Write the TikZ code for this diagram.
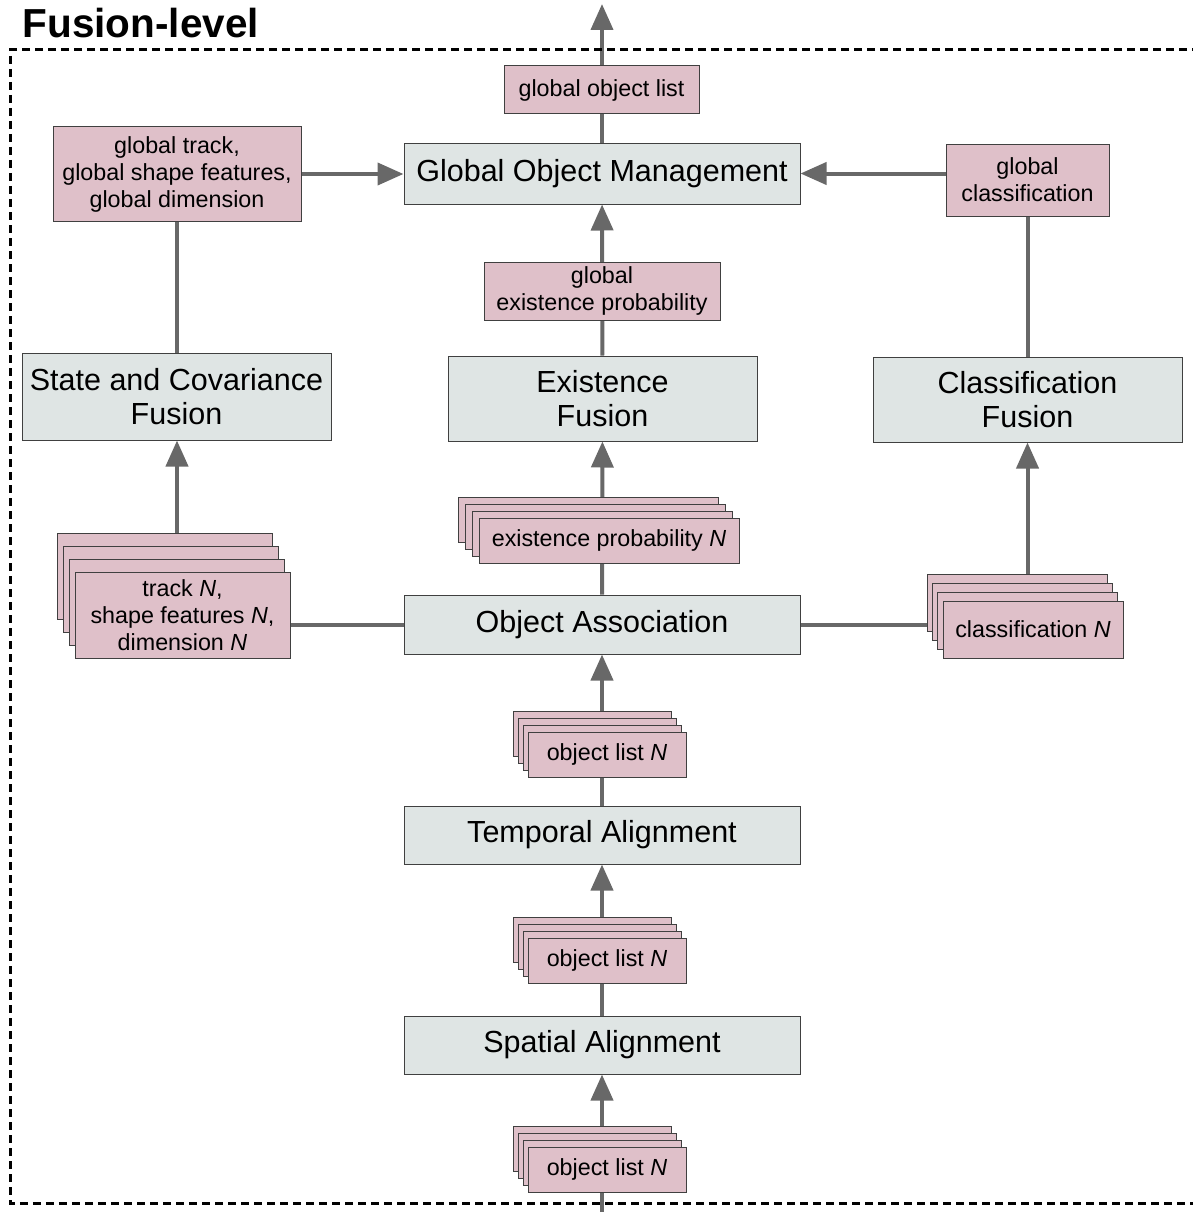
\documentclass[tikz,border=0pt]{standalone}
\usepackage{fontspec}
\setmainfont{Liberation Sans}
\usetikzlibrary{positioning,arrows.meta,backgrounds,calc}
\definecolor{procfill}{RGB}{223,229,228}
\definecolor{datafill}{RGB}{223,192,201}
\definecolor{linegray}{RGB}{104,104,104}
\tikzset{
  proc/.style={rectangle,draw=black!75,line width=1pt,fill=procfill,inner sep=0pt,align=center,
               font=\fontsize{30.5}{34}\selectfont},
  data/.style={rectangle,draw=black!75,line width=1pt,fill=datafill,inner sep=0pt,align=center,
               font=\fontsize{23.3}{27}\selectfont},
  edge/.style={-{Triangle[length=26pt,width=22pt]},line width=4pt,draw=linegray},
  link/.style={line width=4pt,draw=linegray},
  frame/.style={line width=3pt,dash pattern=on 8pt off 5pt},
}
% stacked data box: name, centre, width, height, dx, dy, text
\newcommand{\datastack}[7]{%
  \foreach \k in {3,2,1}
    \node[data,minimum width=#3,minimum height=#4] at ($(#2)+({-\k*#5},{-\k*#6})$) {};
  \node[data,minimum width=#3,minimum height=#4] (#1) at (#2) {#7};
}

\begin{document}
\begin{tikzpicture}[x=1pt,y=-1pt]
  \useasboundingbox (0,0) rectangle (1192,1212);
  % ---- frame ----
  \node[anchor=base west,font=\fontsize{40.5}{44}\selectfont\bfseries] (title) at (19,38) {Fusion-level};
  \draw[frame] (1200,50) -| (10,1203) -- (1200,1203);
  \coordinate (topend) at (602,4);
  \coordinate (botstart) at (602,1214);
  % ---- processing steps ----
  \node[proc,minimum width=396,minimum height=61] (gom) at (602,173.5) {Global Object Management};
  \node[proc,minimum width=309,minimum height=87] (scf) at (176.5,396.5) {State and Covariance\\Fusion};
  \node[proc,minimum width=309,minimum height=85] (exf) at (602.5,398.5) {Existence\\Fusion};
  \node[proc,minimum width=309,minimum height=85] (clf) at (1027.5,399.5) {Classification\\Fusion};
  \node[proc,minimum width=396,minimum height=59] (oa) at (602,624.5) {Object Association};
  \node[proc,minimum width=396,minimum height=58] (ta) at (602,835) {Temporal Alignment};
  \node[proc,minimum width=396,minimum height=58] (sa) at (602,1045) {Spatial Alignment};
  % ---- global data ----
  \node[data,minimum width=195,minimum height=48] (gol) at (601.5,90) {global object list};
  \node[data,minimum width=248,minimum height=94] (gtrack) at (177,174)
    {global track,\\global shape features,\\global dimension};
  \node[data,minimum width=163,minimum height=72] (gclass) at (1027.5,180) {global\\classification};
  \node[data,minimum width=236,minimum height=58] (gexist) at (602,291) {global\\existence probability};
  % ---- per-sensor data ----
  \datastack{trackN}{182.5,615}{215}{86}{5.7}{13}{track \textit{N},\\shape features \textit{N},\\dimension \textit{N}}
  \datastack{existN}{609,540.5}{260}{45}{7}{6.7}{existence probability \textit{N}}
  \datastack{classN}{1033,629.5}{180}{57}{5.3}{8.7}{classification \textit{N}}
  \datastack{objA}{607,754.5}{158}{45}{4.7}{6.7}{object list \textit{N}}
  \datastack{objB}{607,960.5}{158}{45}{4.7}{7}{object list \textit{N}}
  \datastack{objC}{607,1169.5}{158}{45}{4.7}{7}{object list \textit{N}}
  % ---- edges ----
  \begin{scope}[on background layer]
    \draw[edge] (gom) -- (topend);
    \draw[edge] (gtrack.east) -- (gtrack.east -| gom.west);
    \draw[edge] (gclass.west |- gom.east) -- (gom.east);
    \draw[edge] (exf) -- (gom);
    \draw[link] (gtrack.south) -- (gtrack.south |- scf.north);
    \draw[link] (clf) -- (gclass);
    \draw[edge] (trackN.north -| gtrack.south) -- (gtrack.south |- scf.south);
    \draw[edge] (oa) -- (exf);
    \draw[edge] (classN.north -| clf.south) -- (clf.south);
    \draw[link] (oa.west) -- (oa.west -| trackN.east);
    \draw[link] (oa.east) -- (oa.east -| classN.west);
    \draw[edge] (ta) -- (oa);
    \draw[edge] (sa) -- (ta);
    \draw[edge] (botstart) -- (sa);
  \end{scope}
\end{tikzpicture}
\end{document}
